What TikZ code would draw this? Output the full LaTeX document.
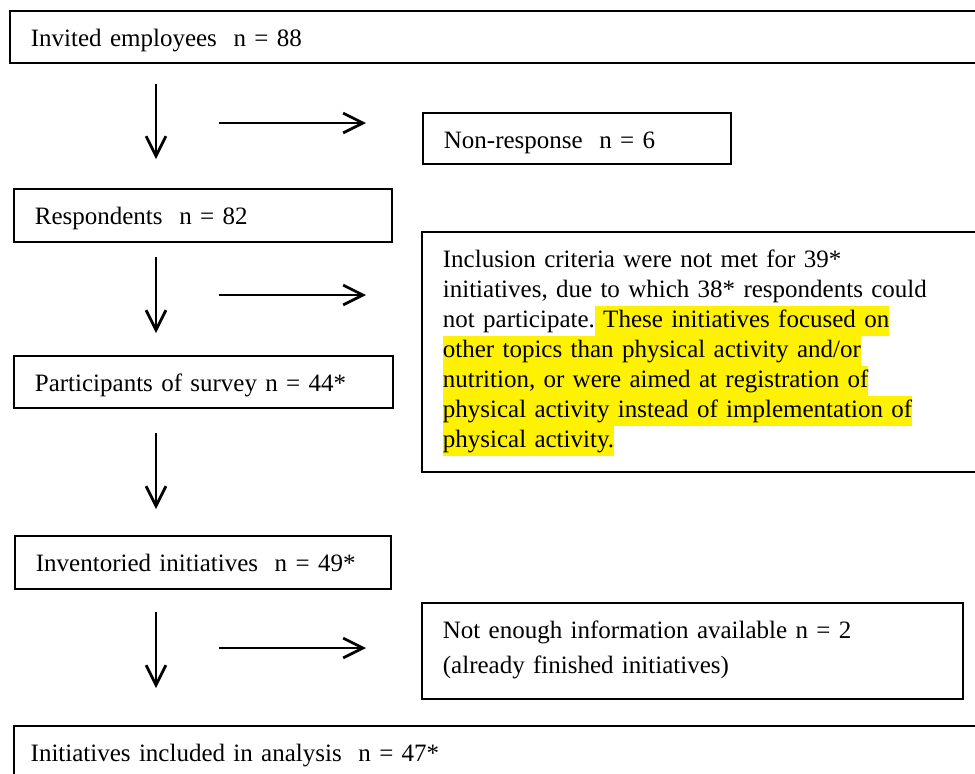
\documentclass[tikz,border=0pt]{standalone}
\usepackage{fontspec}
\setmainfont{Liberation Serif}
\usetikzlibrary{arrows.meta}

\newcommand{\hlyel}[1]{{\setlength{\fboxsep}{0pt}\colorbox{yellow}{\rule[-4.2pt]{0pt}{14.4pt}#1}}}

\begin{document}
\begin{tikzpicture}[x=0.48pt, y=-0.48pt,
    box/.style={
        rectangle,
        draw=black, line width=1pt,
        anchor=north west,
        align=left,
        inner xsep=10pt, inner ysep=0pt,
        text height=16.8pt,
        font=\fontsize{12}{14.4}\selectfont},
    arrow/.style={
        line width=1.3pt,
        -{Straight Barb[length=9.5pt,width=9.5pt]}}
    ]

    \useasboundingbox (0,0) rectangle (975,774);
    \clip (0,0) rectangle (975,774);

    \node (invited) [box, text width=460pt, text depth=8.2pt] at (9,10) {Invited employees\ \ n = 88};
    \node (nonresp) [box, text width=127.8pt, text depth=7.7pt] at (422,112) {Non-response\ \ n = 6};
    \node (resp) [box, text width=161.4pt, text depth=8.6pt] at (13,188) {Respondents\ \ n = 82};
    \node (incl) [box, text width=258pt, text depth=98.4pt] at (421,231) {Inclusion criteria were not met for 39*\\
        initiatives, due to which 38* respondents could\\
        not participate.\hlyel{ These initiatives focused on}\\
        \hlyel{other topics than physical activity and/or}\\
        \hlyel{nutrition, or were aimed at registration of}\\
        \hlyel{physical activity instead of implementation of}\\
        \hlyel{physical activity.}};
    \node (part) [box, text width=161.9pt, text depth=8.2pt] at (13,355) {Participants of survey n = 44*};
    \node (invent) [box, text width=160.5pt, text depth=8.6pt] at (14,535) {Inventoried initiatives\ \ n = 49*};
    \node (notenough) [box, text width=239.7pt, text depth=29.3pt, font=\fontsize{12}{17}\selectfont] at (421,602) {Not enough information available n = 2\\(already finished initiatives)};
    \node (final) [box, inner xsep=8pt, text width=480pt, text depth=20.6pt] at (13,725) {Initiatives included in analysis\ \ n = 47*};

    % free-standing arrows
    \coordinate (down1) at (156,84);
    \coordinate (down1end) at (156,159);
    \coordinate (side1) at (219,123);
    \coordinate (side1end) at (366,123);
    \coordinate (down2) at (156,257);
    \coordinate (down2end) at (156,333);
    \coordinate (side2) at (219,295);
    \coordinate (side2end) at (366,295);
    \coordinate (down3) at (156,433);
    \coordinate (down3end) at (156,509);
    \coordinate (down4) at (156,612);
    \coordinate (down4end) at (156,688);
    \coordinate (side3) at (219,648);
    \coordinate (side3end) at (366,648);

    \draw [arrow] (down1) -- (down1end);
    \draw [arrow] (side1) -- (side1end);
    \draw [arrow] (down2) -- (down2end);
    \draw [arrow] (side2) -- (side2end);
    \draw [arrow] (down3) -- (down3end);
    \draw [arrow] (down4) -- (down4end);
    \draw [arrow] (side3) -- (side3end);

\end{tikzpicture}
\end{document}
